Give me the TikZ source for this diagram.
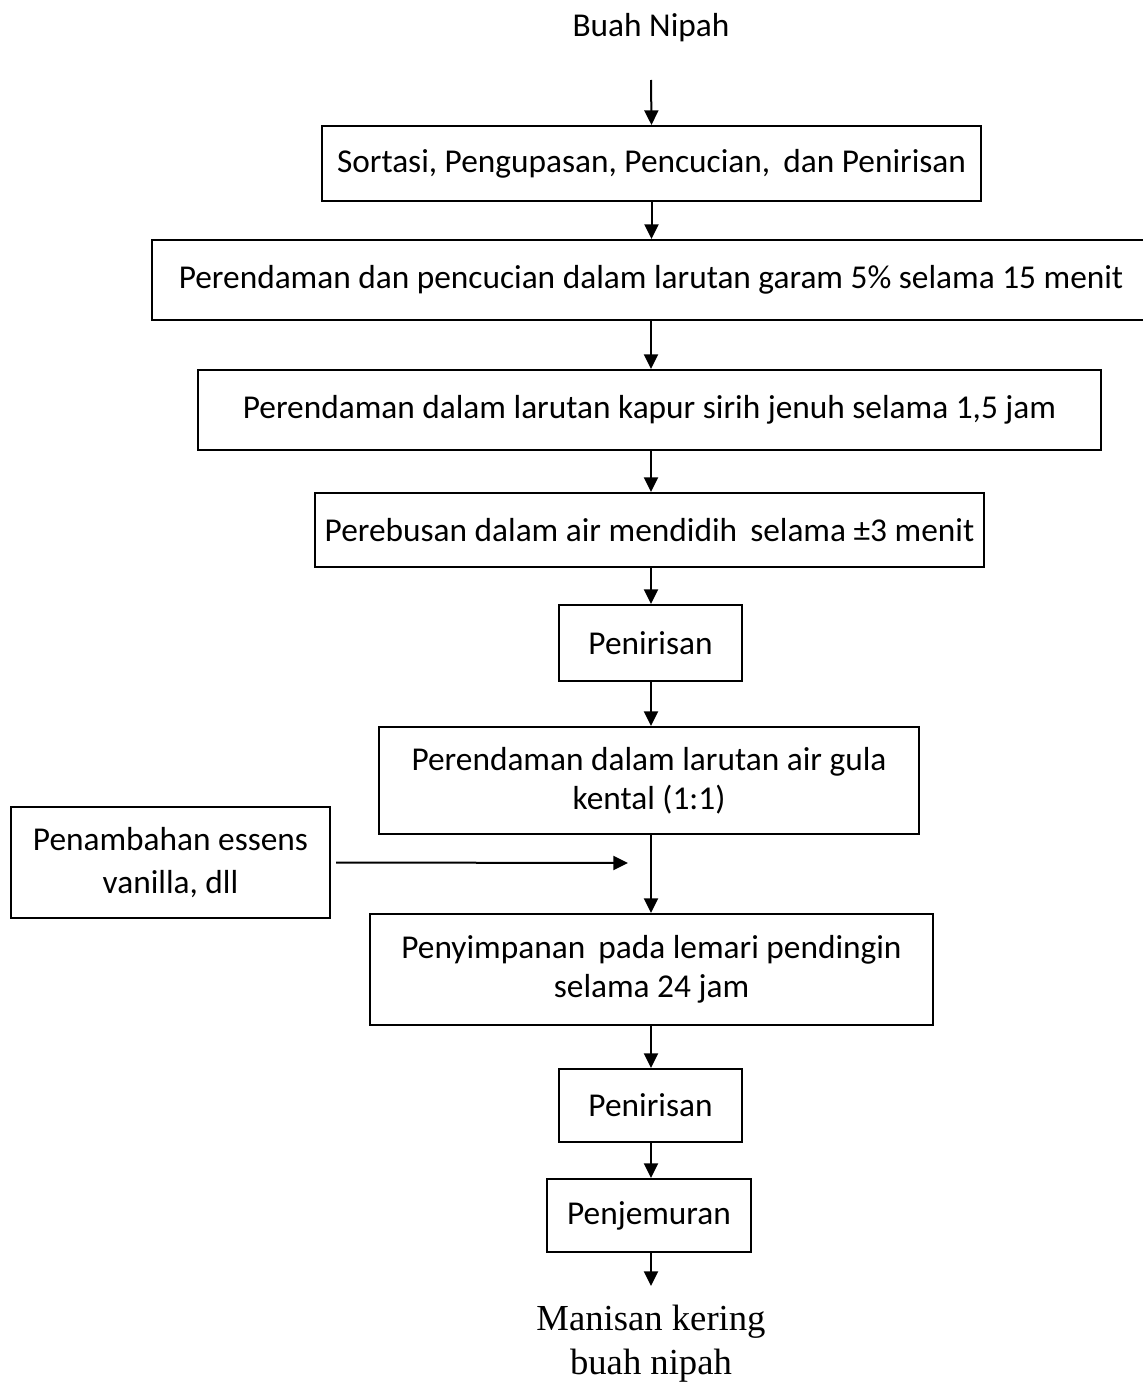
\documentclass[tikz,border=0pt]{standalone}
\usepackage{fontspec}
\setmainfont{Carlito}
\newfontfamily\serifend{Liberation Serif}
\usetikzlibrary{arrows.meta}
\begin{document}
\begin{tikzpicture}[x=0.75pt,y=-0.75pt,
  every node/.style={font=\fontsize{25}{29.25}\selectfont},
  flowbox/.style={draw,line width=1.5pt,inner sep=0pt,align=center},
  flowarrow/.style={line width=1.5pt,-{Triangle[width=10.5pt,length=11pt]}}]
\useasboundingbox (0,0) rectangle (1142,1384);
\node (start) at (651,28) {Buah Nipah};
\coordinate (s0) at (651,80);
\node[flowbox,minimum width=494.25pt,minimum height=56.25pt] (b1) at (651.5,163.5) {Sortasi, Pengupasan, Pencucian,\, dan Penirisan};
\node[flowbox,minimum width=748.5pt,minimum height=60pt] (b2) at (651,280) {Perendaman dan pencucian dalam larutan garam 5\% selama 15 menit};
\node[flowbox,minimum width=677.25pt,minimum height=60pt] (b3) at (649.5,410) {Perendaman dalam larutan kapur sirih jenuh selama 1,5 jam};
\node[flowbox,minimum width=501.75pt,minimum height=55.5pt] (b4) at (649.5,530) {Perebusan dalam air mendidih\, selama ±3 menit};
\node[flowbox,minimum width=137.25pt,minimum height=57pt] (b5) at (650.5,643) {Penirisan};
\node[flowbox,minimum width=405pt,minimum height=80.25pt] (b6) at (649,780.5) {Perendaman dalam larutan air gula\\kental (1:1)};
\node[flowbox,minimum width=239.25pt,minimum height=83.25pt,font=\fontsize{25}{32.25}\selectfont] (side) at (170.5,862.5) {Penambahan essens\\vanilla, dll};
\node[flowbox,minimum width=422.25pt,minimum height=83.25pt] (b7) at (651.5,969.5) {Penyimpanan\, pada lemari pendingin\\selama 24 jam};
\node[flowbox,minimum width=137.25pt,minimum height=54.75pt] (b8) at (650.5,1105.5) {Penirisan};
\node[flowbox,minimum width=153pt,minimum height=54.75pt] (b9) at (649,1215.5) {Penjemuran};
\node[font=\serifend\fontsize{27.5}{33}\selectfont,align=center] (end) at (651,1344) {Manisan kering\\buah nipah};
\coordinate (e0) at (651,1286);
\coordinate (hj) at (628,863);
\draw[flowarrow] (s0) -- (b1.north);
\draw[flowarrow] (b1.south) -- (b2.north -| b1.south);
\draw[flowarrow] (b2.south -| 651,0) -- (b3.north -| 651,0);
\draw[flowarrow] (b3.south -| 651,0) -- (b4.north -| 651,0);
\draw[flowarrow] (b4.south -| 651,0) -- (b5.north -| 651,0);
\draw[flowarrow] (b5.south -| 651,0) -- (b6.north -| 651,0);
\draw[flowarrow] (b6.south -| 651,0) -- (b7.north -| 651,0);
\draw[flowarrow] ([xshift=3.75pt]side.east) -- (hj);
\draw[flowarrow] (b7.south -| 651,0) -- (b8.north -| 651,0);
\draw[flowarrow] (b8.south -| 651,0) -- (b9.north -| 651,0);
\draw[flowarrow] (b9.south -| 651,0) -- (e0);
\end{tikzpicture}
\end{document}
